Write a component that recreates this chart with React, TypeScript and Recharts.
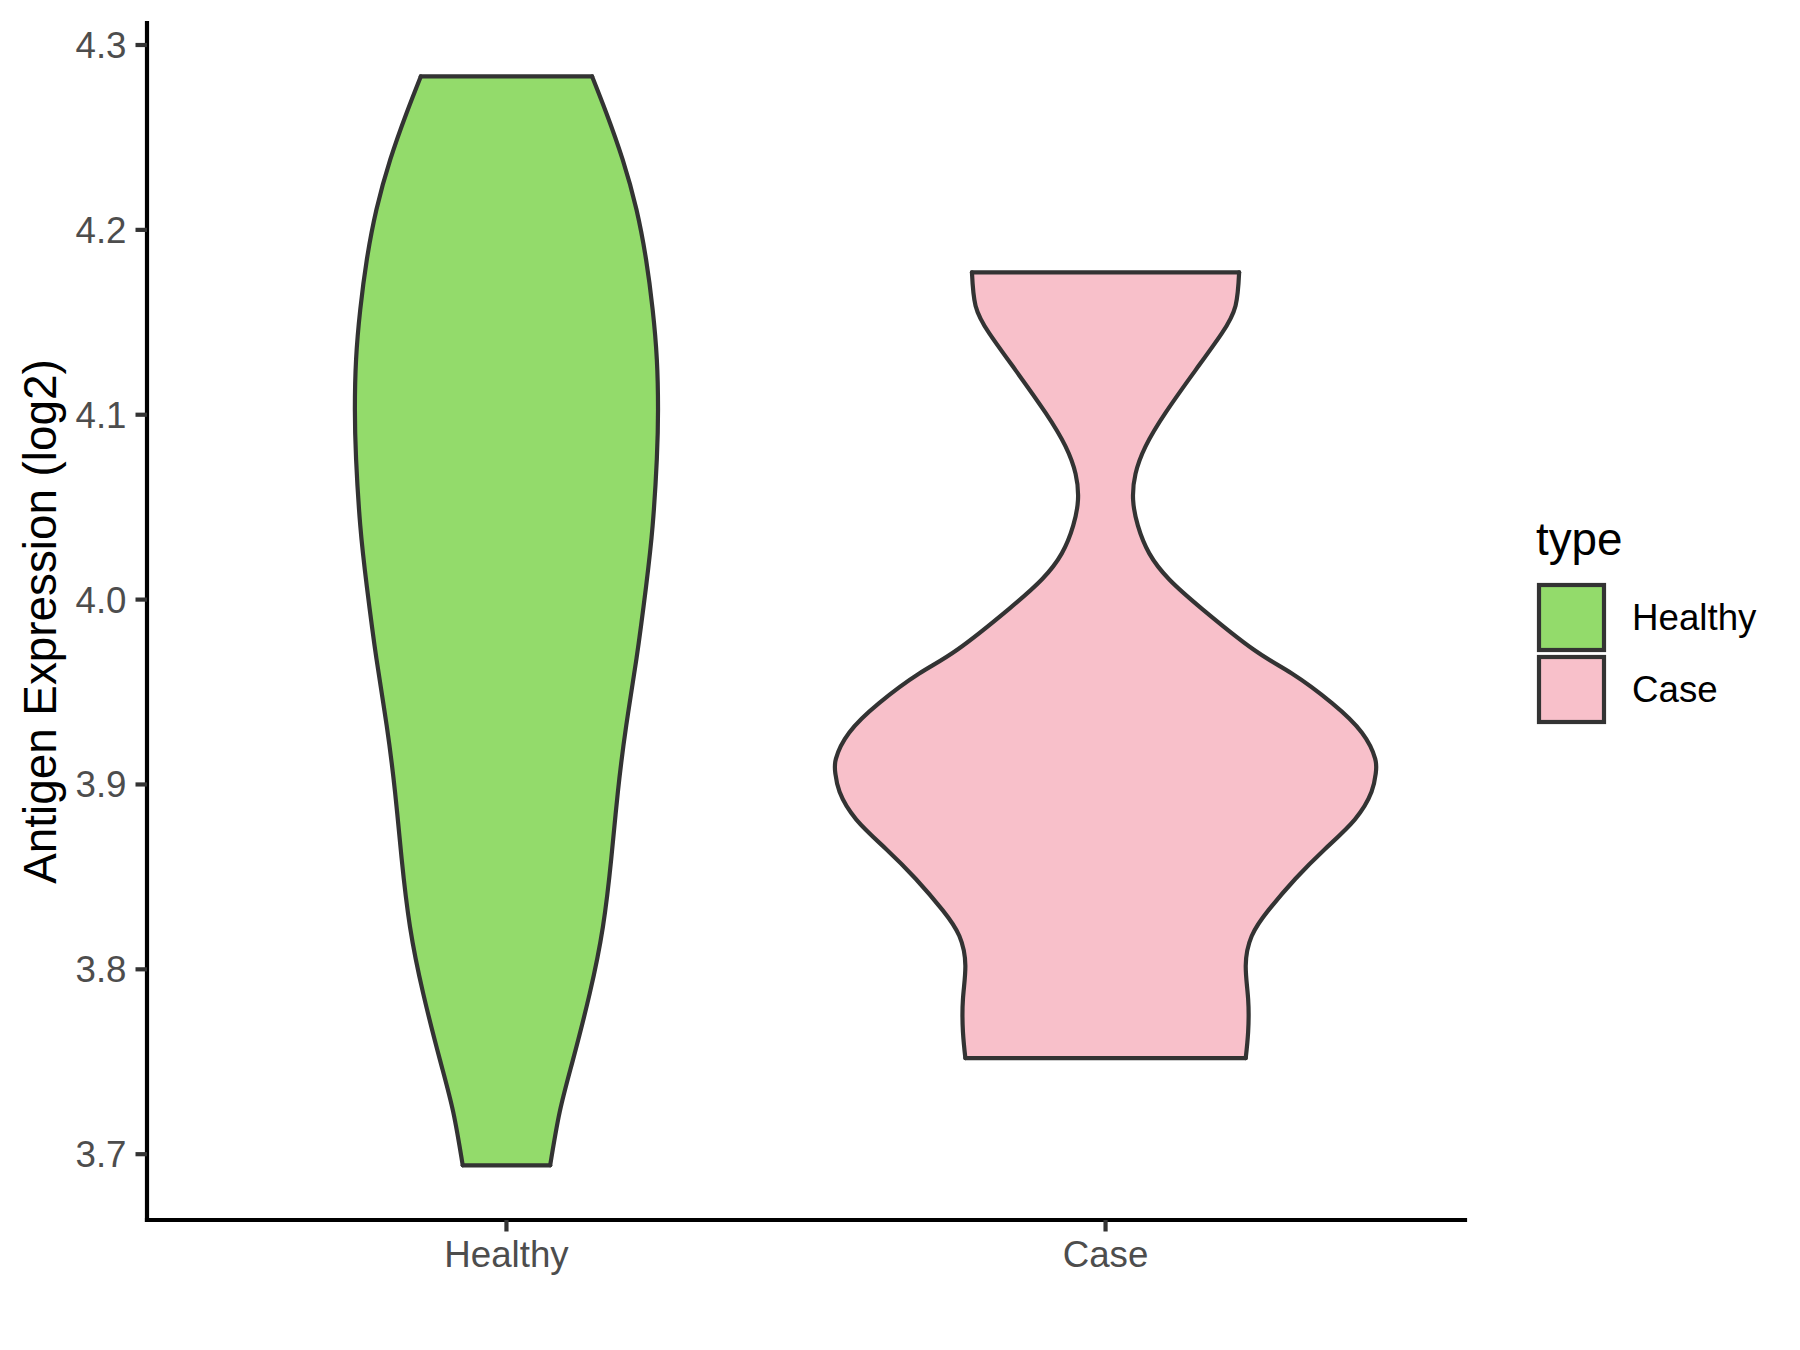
import { Area, ComposedChart, Label, ReferenceLine, XAxis, YAxis } from 'recharts';

const categories = ['Healthy', 'Case'];
const fills = ['#93DB6B', '#F8C0CA'];
const legendTitle = 'type';
const yTitle = 'Antigen Expression (log2)';
const yTicks = [3.7, 3.8, 3.9, 4.0, 4.1, 4.2, 4.3];

// violin outlines: expression value and half width (in category units)
const healthyY = [3.694, 3.723, 3.751, 3.787, 3.823, 3.86, 3.896, 3.932, 3.968, 4.007, 4.04, 4.076, 4.103, 4.13, 4.157, 4.184, 4.211, 4.238, 4.263, 4.283];
const healthyHalf = [0.073, 0.089, 0.111, 0.139, 0.161, 0.175, 0.186, 0.2, 0.217, 0.233, 0.244, 0.251, 0.253, 0.251, 0.244, 0.233, 0.217, 0.194, 0.167, 0.143];

const caseY = [3.752, 3.766, 3.784, 3.802, 3.818, 3.832, 3.849, 3.865, 3.881, 3.896, 3.906, 3.914, 3.928, 3.944, 3.96, 3.973, 3.995, 4.011, 4.025, 4.04, 4.054, 4.068, 4.083, 4.101, 4.124, 4.144, 4.159, 4.177];
const caseHalf = [0.234, 0.238, 0.238, 0.234, 0.244, 0.272, 0.317, 0.366, 0.416, 0.444, 0.451, 0.45, 0.428, 0.378, 0.311, 0.247, 0.161, 0.106, 0.073, 0.054, 0.046, 0.05, 0.067, 0.1, 0.15, 0.194, 0.217, 0.223];

const font = '"Liberation Sans", Arial, sans-serif';
const outline = '#333333';
const lw = 4.2;

const violins = [
  { name: categories[0], pos: 1, ys: healthyY, halves: healthyHalf, fill: fills[0] },
  { name: categories[1], pos: 2, ys: caseY, halves: caseHalf, fill: fills[1] },
].map((v) => ({
  ...v,
  rows: v.ys.map((y, i) => ({ y, range: [v.pos - v.halves[i], v.pos + v.halves[i]] })),
}));

export default function App() {
  return (
    <div style={{ position: 'absolute', left: 0, top: 0, width: 1800, height: 1350, background: '#fff', fontFamily: font }}>
      <ComposedChart
        width={1800}
        height={1350}
        layout="vertical"
        margin={{ top: 23, right: 335, bottom: 50, left: 0 }}
      >
        <XAxis
          type="number"
          domain={[0.4, 2.6]}
          ticks={[1, 2]}
          allowDataOverflow
          tickFormatter={(v: number) => categories[v - 1] ?? ''}
          height={80}
          tickSize={11.5}
          tickMargin={9}
          axisLine={{ stroke: '#000', strokeWidth: lw, strokeLinecap: 'square' }}
          tickLine={{ stroke: outline, strokeWidth: lw }}
          tick={{ fill: '#4D4D4D', fontSize: 36.7, fontFamily: font }}
        />
        <YAxis
          type="number"
          dataKey="y"
          domain={[3.6644, 4.3119]}
          ticks={yTicks}
          reversed
          allowDataOverflow
          tickFormatter={(v: number) => v.toFixed(1)}
          width={147}
          tickSize={11.5}
          tickMargin={9}
          axisLine={{ stroke: '#000', strokeWidth: lw, strokeLinecap: 'square' }}
          tickLine={{ stroke: outline, strokeWidth: lw }}
          tick={{ fill: '#4D4D4D', fontSize: 36.7, fontFamily: font }}
        >
          <Label
            content={(props: any) => {
              const vb = props.viewBox;
              const cy = vb && vb.height ? vb.y + vb.height / 2 : 621.5;
              return (
                <text
                  x={56}
                  y={cy}
                  transform={`rotate(-90 56 ${cy})`}
                  textAnchor="middle"
                  fontSize={45.8}
                  fontFamily={font}
                  fill="#000"
                >
                  {yTitle}
                </text>
              );
            }}
          />
        </YAxis>
        {violins.map((v) => (
          <Area
            key={v.name}
            name={v.name}
            data={v.rows}
            dataKey="range"
            type="natural"
            fill={v.fill}
            fillOpacity={1}
            stroke={outline}
            strokeWidth={lw}
            strokeLinecap="round"
            dot={false}
            activeDot={false}
            isAnimationActive={false}
          />
        ))}
        {violins.flatMap((v) => {
          const first = v.rows[0];
          const last = v.rows[v.rows.length - 1];
          return [first, last].map((r, i) => (
            <ReferenceLine
              key={`${v.name}-${i}`}
              segment={[
                { x: r.range[0], y: r.y },
                { x: r.range[1], y: r.y },
              ]}
              stroke={outline}
              strokeWidth={lw}
              strokeLinecap="round"
            />
          ));
        })}
      </ComposedChart>
      <svg
        width={1800}
        height={1350}
        style={{ position: 'absolute', left: 0, top: 0, pointerEvents: 'none' }}
      >
        <text x={1536} y={555} fontSize={45.8} fontFamily={font} fill="#000">
          {legendTitle}
        </text>
        {violins.map((v, i) => (
          <g key={v.name}>
            <rect x={1539} y={585 + i * 72} width={65} height={65} fill={v.fill} stroke={outline} strokeWidth={lw} />
            <text x={1632} y={630 + i * 72} fontSize={36.7} fontFamily={font} fill="#000">
              {v.name}
            </text>
          </g>
        ))}
      </svg>
    </div>
  );
}
